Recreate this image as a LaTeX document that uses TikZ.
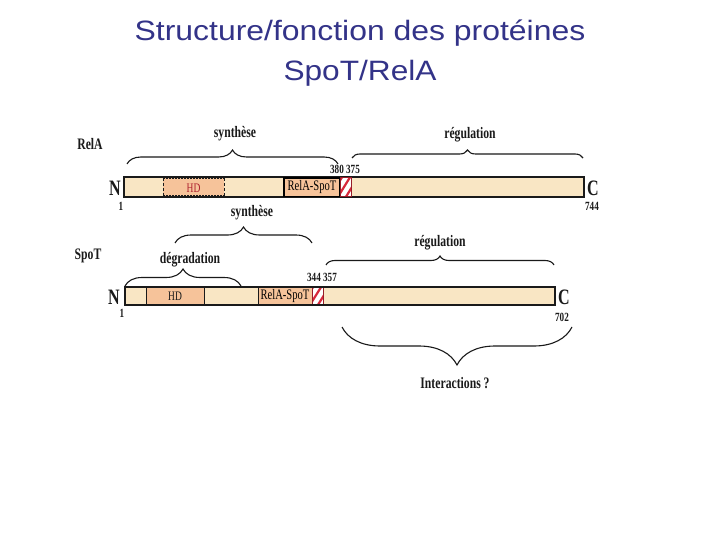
\documentclass[tikz,border=0pt]{standalone}
\usepackage{fontspec}
\setmainfont{Liberation Serif}
\newfontfamily\titlefont{Liberation Sans}
\newfontfamily\cfont[FakeStretch=0.73]{Liberation Serif}
\usetikzlibrary{decorations.pathreplacing}
\definecolor{titleblue}{HTML}{333388}
\definecolor{barfill}{HTML}{F9E6C4}
\definecolor{peach}{HTML}{F6C39A}
\definecolor{stripered}{HTML}{D8283A}
\definecolor{ink}{HTML}{1A1A1A}
\tikzset{
  bar/.style={draw=ink, line width=1.4pt, fill=barfill},
  seg/.style={draw=ink, line width=0.9pt, fill=peach},
  lbl/.style={inner sep=0pt, text=ink, font=\cfont\bfseries\fontsize{16}{18}\selectfont},
  blbl/.style={inner sep=0pt, text=ink, font=\cfont\bfseries\fontsize{16}{18}\selectfont},
  num/.style={inner sep=0pt, text=ink, font=\cfont\bfseries\fontsize{12.5}{14}\selectfont},
  term/.style={inner sep=0pt, text=ink, font=\cfont\bfseries\fontsize{22}{24}\selectfont},
  brc/.style={draw=ink, line width=1.1pt, decorate, decoration={brace, amplitude=#1}},
  stripe/.style={draw=stripered, line width=2.2pt}
}
\begin{document}
\begin{tikzpicture}[x=1pt, y=-1pt]
\useasboundingbox (0,0) rectangle (720,540);
\fill[white] (0,0) rectangle (720,540);
% title
\node[anchor=base, inner sep=0pt, text=titleblue, font=\titlefont\fontsize{28}{32}\selectfont] (t1) at (360,41) {\scalebox{1.14}[1]{Structure/fonction des protéines}};
\node[anchor=base, inner sep=0pt, text=titleblue, font=\titlefont\fontsize{28}{32}\selectfont] (t2) at (360,81) {\scalebox{1.13}[1]{SpoT/RelA}};

% ---------------- RelA ----------------
\node[blbl] (relalbl) at (90,144) {RelA};
\draw[bar] (124,177) rectangle (584,197);
\coordinate (relaL) at (124,187);
\coordinate (relaR) at (584,187);
% HD dashed
\fill[peach] (163,177.7) rectangle (224,196.3);
\draw[ink, line width=0.9pt, dash pattern=on 3pt off 2pt] (163,178) -- (163,196) (224,178) -- (224,196);
\draw[ink, line width=0.8pt, dash pattern=on 1.5pt off 1.5pt] (163,178.2) -- (224,178.2) (163,195.8) -- (224,195.8);
\node[inner sep=0pt, text=stripered!80!black, font=\cfont\fontsize{13}{14}\selectfont] (hd1) at (193.5,188) {HD};
% RelA-SpoT
\draw[draw=black, line width=1.2pt, fill=peach] (284,178) rectangle (340,196.5);
\node[inner sep=0pt, text=black, font=\cfont\fontsize{14.5}{16}\selectfont] (rs1) at (312,187.5) {RelA-SpoT};
% stripes
\begin{scope}
\clip (340,177.6) rectangle (351,196.4);
\fill[white] (340,177) rectangle (351,197);
\foreach \k in {-12,-4,4,12,20} { \draw[stripe] (340+\k,200) -- (356+\k,174); }
\end{scope}
\draw[stripered!70!black, line width=0.8pt] (340,177.6) rectangle (351,196.4);
% labels
\node[num] (n380) at (345,169) {380 375};
\node[term] (nN1) at (115,188) {N};
\node[num] (n1a) at (121,206) {1};
\node[term] (nC1) at (593,188) {C};
\node[num] (n744) at (592,206) {744};
% braces
\coordinate (b1s) at (127,164); \coordinate (b1e) at (338,164);
\draw[brc=14pt] (b1s) -- (b1e);
\node[lbl] (syn1) at (235,134) {synthèse};
\coordinate (b2s) at (352,158); \coordinate (b2e) at (583,158);
\draw[brc=8pt] (b2s) -- (b2e);
\node[lbl] (reg1) at (470,135) {régulation};

% ---------------- SpoT ----------------
\node[blbl] (spotlbl) at (88,256) {SpoT};
\draw[bar] (125,287) rectangle (555,305);
\coordinate (spotL) at (125,296);
\coordinate (spotR) at (555,296);
\draw[seg] (146,287) rectangle (204,305);
\node[inner sep=0pt, text=ink, font=\cfont\fontsize{13}{14}\selectfont] (hd2) at (175,296) {HD};
\draw[seg] (258,287) rectangle (312,305);
\node[inner sep=0pt, text=black, font=\cfont\fontsize{14.5}{16}\selectfont] (rs2) at (285,296.5) {RelA-SpoT};
\begin{scope}
\clip (312,287.6) rectangle (323,304.4);
\fill[white] (312,287) rectangle (323,305);
\foreach \k in {-12,-4,4,12,20} { \draw[stripe] (312+\k,308) -- (327+\k,284); }
\end{scope}
\draw[stripered!70!black, line width=0.8pt] (312,287.6) rectangle (323,304.4);
\draw[ink, line width=1.4pt] (125,287) rectangle (555,305);
\node[num] (n344) at (322,277) {344 357};
\node[term] (nN2) at (114,297) {N};
\node[num] (n1b) at (122,313) {1};
\node[term] (nC2) at (564,297) {C};
\node[num] (n702) at (562,317) {702};
% braces
\coordinate (b3s) at (125,286); \coordinate (b3e) at (241,286);
\draw[brc=17pt] (b3s) -- (b3e);
\node[lbl] (deg) at (190,260) {dégradation};
\coordinate (b4s) at (175,243); \coordinate (b4e) at (312,243);
\draw[brc=16pt] (b4s) -- (b4e);
\node[lbl] (syn2) at (252,213) {synthèse};
\coordinate (b5s) at (326,265); \coordinate (b5e) at (554,265);
\draw[brc=9pt] (b5s) -- (b5e);
\node[lbl] (reg2) at (440,243) {régulation};
\coordinate (b6s) at (342,327); \coordinate (b6e) at (572,327);
\draw[draw=ink, line width=1.1pt, decorate, decoration={brace, mirror, amplitude=38pt}] (b6s) -- (b6e);
\node[lbl] (inter) at (455,383) {Interactions ?};
\end{tikzpicture}
\end{document}
